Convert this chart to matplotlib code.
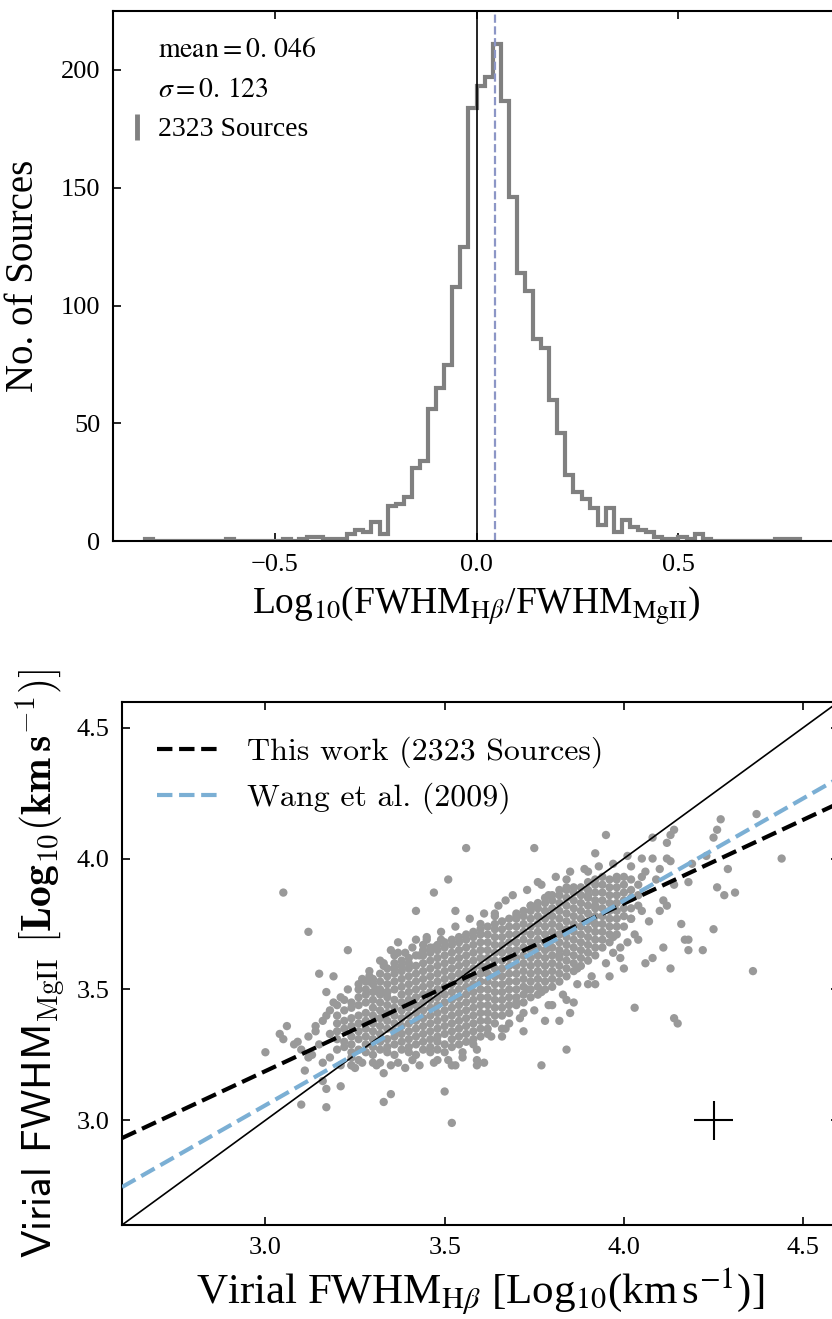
import numpy as np
import matplotlib
matplotlib.use('Agg')
import matplotlib.pyplot as plt
from matplotlib.lines import Line2D

plt.rcParams['font.family'] = ['Liberation Serif', 'DejaVu Serif']
plt.rcParams['mathtext.fontset'] = 'stix'
plt.rcParams['xtick.direction'] = 'in'
plt.rcParams['ytick.direction'] = 'in'
plt.rcParams['xtick.top'] = True
plt.rcParams['ytick.right'] = True

# ---- top panel: histogram of log10(FWHM_Hb / FWHM_MgII) ----
bin_lo, bin_hi, bin_w = -0.82, 0.80, 0.02
counts = [1, 0, 0, 0, 0, 0, 0, 0, 0, 0, 1, 0, 0, 0, 0, 0, 0,
          1, 0, 1, 2, 2, 1, 1, 1,
          3, 5, 4, 8, 3,
          15, 16, 19, 31, 34,
          56, 65, 75, 108, 125,
          184, 193, 197, 211, 187,
          146, 114, 106, 86, 82,
          60, 46, 28, 21, 18,
          14, 7, 14, 4, 9,
          6, 5, 4, 2, 1, 1,
          2, 1, 3, 1,
          0, 0, 0, 0, 0, 0, 0, 0,
          1, 1, 1]
ratio_mean = 0.046
ratio_sigma = 0.123
n_sources = 2323

# ---- bottom panel: virial FWHM MgII vs Hb ----
# isolated points
out_x = [3.56, 3.51, 3.47, 3.53, 3.05, 3.12, 3.42, 3.23, 3.15, 3.19, 3.17, 3.06, 3.00, 3.05,
         3.10, 3.17, 3.17, 3.33, 3.35, 3.50, 3.52, 3.11, 3.24, 3.32, 3.14, 3.37, 3.42, 3.45,
         3.49, 3.32, 3.27, 3.29, 3.31, 3.34, 3.43, 3.47, 3.35, 3.52, 3.53, 3.59, 3.59, 3.16,
         3.21, 3.25, 3.33, 3.37, 3.41, 3.04, 3.08, 3.12,
         3.75, 3.95, 3.92, 4.01, 4.05, 4.08, 4.12, 4.13, 4.08, 4.12, 4.13, 4.14, 4.27, 4.26,
         4.25, 4.37, 4.23, 4.29, 4.44, 4.19, 3.76, 3.90, 3.84, 4.18, 4.26, 4.28, 4.31, 4.25,
         4.22, 4.18, 4.17, 4.18, 4.11, 4.13, 4.16, 4.36, 4.08, 4.06, 4.03, 4.14, 4.15, 3.84,
         3.77, 3.96, 3.92, 3.90, 3.86, 3.84, 3.80, 3.85, 3.82, 3.78, 3.72, 3.66, 3.66, 3.61,
         3.99, 3.97, 4.01, 4.04, 4.11, 4.12, 4.10, 4.14, 4.05, 3.98, 3.92, 4.02, 4.05, 3.97,
         3.92, 3.90, 3.84, 3.79, 3.74, 3.70, 3.67, 3.64, 3.79, 3.82, 3.87, 4.00, 3.73, 3.70,
         3.77]
out_y = [4.04, 3.92, 3.87, 3.80, 3.87, 3.72, 3.80, 3.65, 3.56, 3.55, 3.49, 3.36, 3.26, 3.31,
         3.06, 3.05, 3.12, 3.07, 3.10, 3.11, 2.99, 3.19, 3.21, 3.22, 3.34, 3.68, 3.69, 3.69,
         3.69, 3.61, 3.54, 3.53, 3.50, 3.49, 3.63, 3.66, 3.65, 3.21, 3.21, 3.23, 3.21, 3.15,
         3.13, 3.20, 3.18, 3.22, 3.23, 3.33, 3.29, 3.24,
         4.04, 4.09, 4.02, 4.01, 4.00, 4.00, 4.00, 3.99, 4.08, 4.06, 4.09, 4.11, 4.15, 4.11,
         4.08, 4.17, 4.01, 3.96, 4.00, 3.98, 3.91, 3.95, 3.92, 3.91, 3.89, 3.86, 3.87, 3.73,
         3.65, 3.65, 3.69, 3.69, 3.66, 3.58, 3.75, 3.57, 3.62, 3.60, 3.43, 3.39, 3.37, 3.27,
         3.21, 3.55, 3.52, 3.52, 3.45, 3.46, 3.44, 3.41, 3.38, 3.38, 3.34, 3.35, 3.32, 3.22,
         3.62, 3.64, 3.68, 3.69, 3.84, 3.82, 3.96, 3.90, 3.93, 3.93, 3.82, 3.77, 3.80, 3.70,
         3.75, 3.86, 3.89, 3.86, 3.82, 3.78, 3.84, 3.79, 3.66, 3.63, 3.58, 3.58, 3.50, 3.45,
         3.49]
# looser points around the dense band
halo_x = [3.09, 3.10, 3.12, 3.13, 3.14, 3.15, 3.16, 3.17, 3.18, 3.18, 3.19, 3.21, 3.21, 3.23,
          3.24, 3.26, 3.27, 3.29, 3.31, 3.33, 3.35, 3.37, 3.39, 3.41, 3.43, 3.45, 3.47, 3.49,
          3.51, 3.53, 3.55, 3.57, 3.59, 3.61, 3.63, 3.65, 3.67, 3.69, 3.71, 3.73, 3.75, 3.77,
          3.79, 3.81, 3.83, 3.85, 3.87, 3.89, 3.91, 3.93, 3.95, 3.97, 3.99, 4.02, 4.03, 4.06,
          4.07, 4.09, 4.10,
          3.16, 3.18, 3.20, 3.22, 3.24, 3.26, 3.28, 3.30, 3.26, 3.29, 3.33, 3.36, 3.39, 3.44,
          3.48, 3.55, 3.58, 3.62, 3.68, 3.72, 3.60, 3.64]
halo_y = [3.30, 3.27, 3.32, 3.25, 3.36, 3.29, 3.22, 3.40, 3.33, 3.24, 3.45, 3.47, 3.21, 3.50,
          3.21, 3.52, 3.22, 3.57, 3.21, 3.60, 3.21, 3.64, 3.20, 3.66, 3.21, 3.70, 3.22, 3.72,
          3.23, 3.74, 3.24, 3.77, 3.27, 3.79, 3.32, 3.82, 3.35, 3.86, 3.39, 3.88, 3.42, 3.90,
          3.44, 3.93, 3.48, 3.95, 3.52, 3.96, 3.55, 3.97, 3.60, 3.98, 3.66, 3.97, 3.71, 3.95,
          3.76, 3.92, 3.80,
          3.38, 3.42, 3.44, 3.46, 3.24, 3.23, 3.53, 3.22, 3.50, 3.55, 3.59, 3.63, 3.64, 3.67,
          3.23, 3.26, 3.29, 3.33, 3.37, 3.41, 3.75, 3.78]
# dense band, read column by column
core_cols = [3.20, 3.22, 3.24, 3.26, 3.28, 3.30, 3.32, 3.34, 3.36, 3.38, 3.40, 3.42, 3.44,
             3.46, 3.48, 3.50, 3.52, 3.54, 3.56, 3.58, 3.60, 3.62, 3.64, 3.66, 3.68, 3.70,
             3.72, 3.74, 3.76, 3.78, 3.80, 3.82, 3.84, 3.86, 3.88, 3.90, 3.92, 3.94, 3.96,
             3.98, 4.00, 4.02, 4.04]
core_ys = [
    [3.27, 3.31, 3.34, 3.37, 3.40],
    [3.28, 3.30, 3.35, 3.38, 3.42],
    [3.26, 3.29, 3.32, 3.36, 3.39, 3.43, 3.45],
    [3.27, 3.31, 3.34, 3.37, 3.40, 3.44, 3.47],
    [3.26, 3.29, 3.32, 3.35, 3.38, 3.41, 3.45, 3.48, 3.50],
    [3.25, 3.28, 3.31, 3.34, 3.37, 3.40, 3.43, 3.46, 3.49, 3.52, 3.54],
    [3.27, 3.30, 3.33, 3.36, 3.39, 3.42, 3.45, 3.48, 3.50, 3.53, 3.56],
    [3.26, 3.28, 3.31, 3.35, 3.38, 3.41, 3.44, 3.47, 3.49, 3.52, 3.55, 3.58],
    [3.25, 3.29, 3.32, 3.34, 3.37, 3.40, 3.43, 3.46, 3.50, 3.53, 3.56, 3.58, 3.60],
    [3.27, 3.30, 3.33, 3.36, 3.39, 3.42, 3.45, 3.48, 3.51, 3.54, 3.57, 3.59, 3.61],
    [3.26, 3.28, 3.31, 3.34, 3.37, 3.40, 3.43, 3.46, 3.49, 3.52, 3.55, 3.58, 3.60, 3.62],
    [3.25, 3.29, 3.32, 3.35, 3.38, 3.41, 3.44, 3.47, 3.50, 3.53, 3.56, 3.59, 3.63],
    [3.27, 3.30, 3.33, 3.36, 3.39, 3.42, 3.45, 3.48, 3.51, 3.54, 3.57, 3.60, 3.63, 3.65],
    [3.26, 3.28, 3.31, 3.34, 3.37, 3.40, 3.43, 3.46, 3.49, 3.52, 3.55, 3.58, 3.61, 3.64, 3.66],
    [3.27, 3.30, 3.32, 3.35, 3.38, 3.41, 3.44, 3.47, 3.50, 3.53, 3.56, 3.59, 3.62, 3.65, 3.67],
    [3.26, 3.29, 3.33, 3.36, 3.39, 3.42, 3.45, 3.48, 3.51, 3.54, 3.57, 3.60, 3.63, 3.66, 3.68],
    [3.28, 3.31, 3.34, 3.37, 3.40, 3.43, 3.46, 3.49, 3.52, 3.55, 3.58, 3.61, 3.64, 3.67, 3.69],
    [3.29, 3.32, 3.35, 3.38, 3.41, 3.44, 3.47, 3.50, 3.53, 3.56, 3.59, 3.62, 3.65, 3.68, 3.70],
    [3.30, 3.33, 3.36, 3.39, 3.42, 3.45, 3.48, 3.51, 3.54, 3.57, 3.60, 3.63, 3.66, 3.69, 3.71],
    [3.31, 3.34, 3.37, 3.40, 3.43, 3.46, 3.49, 3.52, 3.55, 3.58, 3.61, 3.64, 3.67, 3.70, 3.72],
    [3.32, 3.35, 3.38, 3.41, 3.44, 3.47, 3.50, 3.53, 3.56, 3.59, 3.62, 3.65, 3.68, 3.71, 3.73],
    [3.35, 3.38, 3.41, 3.44, 3.47, 3.50, 3.53, 3.56, 3.59, 3.62, 3.65, 3.68, 3.71, 3.74],
    [3.37, 3.40, 3.43, 3.46, 3.49, 3.52, 3.55, 3.58, 3.61, 3.64, 3.67, 3.70, 3.73, 3.75],
    [3.40, 3.43, 3.46, 3.49, 3.52, 3.55, 3.58, 3.61, 3.64, 3.67, 3.70, 3.73, 3.76],
    [3.41, 3.44, 3.47, 3.50, 3.53, 3.56, 3.59, 3.62, 3.65, 3.68, 3.71, 3.74, 3.77],
    [3.44, 3.47, 3.50, 3.53, 3.56, 3.59, 3.62, 3.65, 3.68, 3.71, 3.74, 3.77, 3.79],
    [3.45, 3.48, 3.51, 3.54, 3.57, 3.60, 3.63, 3.66, 3.69, 3.72, 3.75, 3.78, 3.80],
    [3.47, 3.50, 3.53, 3.56, 3.59, 3.62, 3.65, 3.68, 3.71, 3.74, 3.77, 3.80, 3.82],
    [3.48, 3.51, 3.54, 3.57, 3.60, 3.63, 3.66, 3.69, 3.72, 3.75, 3.78, 3.81, 3.83],
    [3.50, 3.53, 3.56, 3.59, 3.62, 3.65, 3.68, 3.71, 3.74, 3.77, 3.80, 3.83, 3.85],
    [3.51, 3.54, 3.57, 3.60, 3.63, 3.66, 3.69, 3.72, 3.75, 3.78, 3.81, 3.84, 3.86],
    [3.53, 3.56, 3.59, 3.62, 3.65, 3.68, 3.71, 3.74, 3.77, 3.80, 3.83, 3.86, 3.88],
    [3.55, 3.58, 3.61, 3.64, 3.67, 3.70, 3.73, 3.76, 3.79, 3.82, 3.85, 3.88],
    [3.57, 3.60, 3.63, 3.66, 3.69, 3.72, 3.75, 3.78, 3.81, 3.84, 3.87, 3.89],
    [3.59, 3.62, 3.65, 3.68, 3.71, 3.74, 3.77, 3.80, 3.83, 3.86, 3.89],
    [3.61, 3.64, 3.67, 3.70, 3.73, 3.76, 3.79, 3.82, 3.85, 3.88, 3.91],
    [3.63, 3.66, 3.69, 3.72, 3.75, 3.78, 3.81, 3.84, 3.87, 3.90, 3.92],
    [3.66, 3.69, 3.72, 3.75, 3.78, 3.81, 3.84, 3.87, 3.90, 3.93],
    [3.68, 3.71, 3.74, 3.77, 3.80, 3.83, 3.86, 3.89, 3.92],
    [3.71, 3.74, 3.77, 3.80, 3.83, 3.86, 3.89, 3.92],
    [3.74, 3.78, 3.81, 3.84, 3.87, 3.90, 3.93],
    [3.77, 3.81, 3.85, 3.88, 3.92],
    [3.82, 3.86, 3.90],
]

# fitted relations: (slope, intercept)
fit_this = (0.640, 1.268)
fit_wang = (0.7815, 0.713)
# typical uncertainty
err_pos = (4.25, 3.0)
err_size = (0.055, 0.075)

fig = plt.figure(figsize=(8.32, 13.19), dpi=100)
W, H = 832.0, 1319.0
ax1 = fig.add_axes([113 / W, 1 - 541.3 / H, (840 - 113) / W, (541.3 - 11) / H])
ax2 = fig.add_axes([122 / W, 1 - 1225 / H, (839 - 122) / W, (1225 - 701.5) / H])

for ax in (ax1, ax2):
    for s in ax.spines.values():
        s.set_linewidth(1.5)
    ax.tick_params(length=6, width=1.2, labelsize=19, pad=9)

# top
edges = np.arange(len(counts) + 1) * bin_w + bin_lo
mids = edges[:-1] + bin_w / 2
ax1.hist(mids, bins=edges, weights=counts, histtype='step', color='#808080', lw=3)
ax1.axvline(0, color='k', lw=1.2)
ax1.axvline(ratio_mean, color='#8c96c6', ls='--', lw=1.6)
ax1.set_xlim(-0.9, 0.9)
ax1.set_ylim(0, 225)
ax1.set_xticks([-0.5, 0.0, 0.5])
ax1.set_yticks([0, 50, 100, 150, 200])
ax1.set_xlabel(r'Log$_{10}$(FWHM$_{\mathrm{H}\beta}$/FWHM$_{\mathrm{MgII}}$)', fontsize=27, labelpad=6)
ax1.set_ylabel('No. of Sources', fontsize=28, labelpad=14)

src = Line2D([], [], color='#808080', marker='|', ls='none', ms=19, mew=3.5)
ax1.legend([Line2D([], [], ls='none'), Line2D([], [], ls='none'), src],
           [r'$\mathrm{mean} = 0.\,%s$' % f'{ratio_mean:.3f}'[2:],
            r'$\sigma = 0.\,%s$' % f'{ratio_sigma:.3f}'[2:],
            f'{n_sources} Sources'],
           loc='upper left', frameon=False, fontsize=20, handlelength=0.7,
           handletextpad=0.4, labelspacing=0.52, borderaxespad=0.2,
           bbox_to_anchor=(-0.003, 0.982))

# bottom
sx = list(out_x) + list(halo_x)
sy = list(out_y) + list(halo_y)
for cx, ys in zip(core_cols, core_ys):
    sx += [cx] * len(ys)
    sy += ys
ax2.scatter(sx, sy, s=36, c='#999999', edgecolors='none', zorder=1)

xx = np.array([2.6, 4.6])
ax2.plot(xx, xx, color='k', lw=1.2, zorder=2)
l1, = ax2.plot(xx, fit_this[0] * xx + fit_this[1], color='k', ls='--', lw=3, zorder=3)
l2, = ax2.plot(xx, fit_wang[0] * xx + fit_wang[1], color='#7bafd4', ls='--', lw=3, zorder=3)
ax2.errorbar(err_pos[0], err_pos[1], xerr=err_size[0], yerr=err_size[1], color='k',
             lw=1.5, capsize=0)
ax2.set_xlim(2.6, 4.6)
ax2.set_ylim(2.6, 4.6)
ax2.set_xticks([3.0, 3.5, 4.0, 4.5])
ax2.set_yticks([3.0, 3.5, 4.0, 4.5])
ax2.legend([l1, l2], [f'This work ({n_sources} Sources)', 'Wang et al. (2009)'],
           loc='upper left', frameon=False, prop={'family': 'cmr10', 'size': 23},
           handlelength=2.0, handletextpad=0.8, labelspacing=0.45, borderaxespad=0.7)
ax2.set_xlabel(r'Virial FWHM$_{\mathrm{H}\beta}$ [Log$_{10}$(km$\,$s$^{-1}$)]',
               fontsize=31, labelpad=4)
ax2.set_ylabel(r'Virial FWHM$_{\rm MgII}$ $\mathbf{[Log_{10}(km\,s^{-1})]}$',
               fontsize=30, family='cmss10', math_fontfamily='cm', labelpad=6)

fig.savefig('out.png', dpi=100)
